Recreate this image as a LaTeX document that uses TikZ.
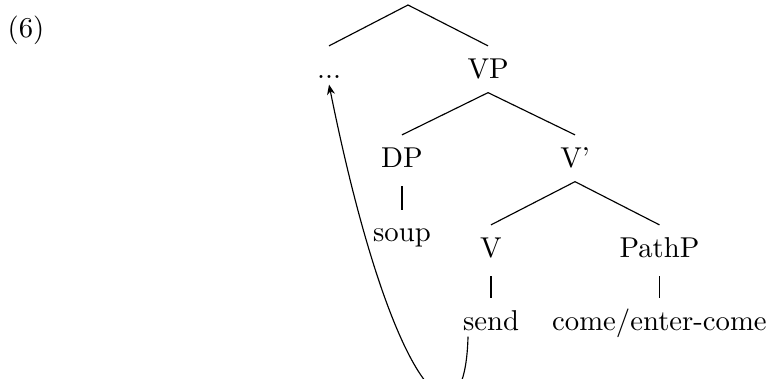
\documentclass[tikz,border=0pt]{standalone}
\usepackage{tikz}
\usetikzlibrary{arrows.meta,positioning}

\begin{document}
\begin{tikzpicture}[
  cat/.style={inner sep=0pt, text height=11pt, text depth=4.9pt, anchor=base},
  branch/.style={line width=0.4pt},
  unary/.style={branch, shorten <=1.6pt},
  arr/.style={-{Stealth[length=3.5pt,width=2.8pt]}, line width=0.4pt}
]
  \useasboundingbox (0,0) rectangle (9.404,-4.629);

  \node[inner sep=0pt, anchor=base west] (exnum) at (0.086,-0.465) {(6)};

  % Tree
  \coordinate (top) at (4.996,-0.061);
  \node[cat] (dots)  at (4.029,-0.955) {...};
  \node[cat] (vp)    at (5.976,-0.955) {VP};
  \node[cat] (dp)    at (4.922,-2.045) {DP};
  \node[cat] (vbar)  at (7.041,-2.045) {V'};
  \node[cat] (soup)  at (4.922,-2.96)  {soup};
  \node[cat] (v)     at (6.012,-3.147) {V};
  \node[cat] (pathp) at (8.075,-3.147) {PathP};
  \node[cat] (send)  at (6.012,-4.041) {send};
  \node[cat] (come)  at (8.075,-4.041) {come/enter-come};

  \foreach \b in {dots, vp}
    \draw[branch] (top) -- (\b.north);
  \foreach \a/\b in {vp/dp, vp/vbar, vbar/v, vbar/pathp}
    \draw[branch] (\a.south) -- (\b.north);
  \foreach \a/\b in {dp/soup, v/send, pathp/come}
    \draw[unary] (\a.south) -- (\b.north);

  % Movement arrow
  \draw[arr] ([xshift=-8pt,yshift=2.8pt]send.south)
    .. controls +(-0.04,-1.5) and +(0.78,-3.87) .. ([yshift=2.8pt]dots.south);
\end{tikzpicture}
\end{document}
